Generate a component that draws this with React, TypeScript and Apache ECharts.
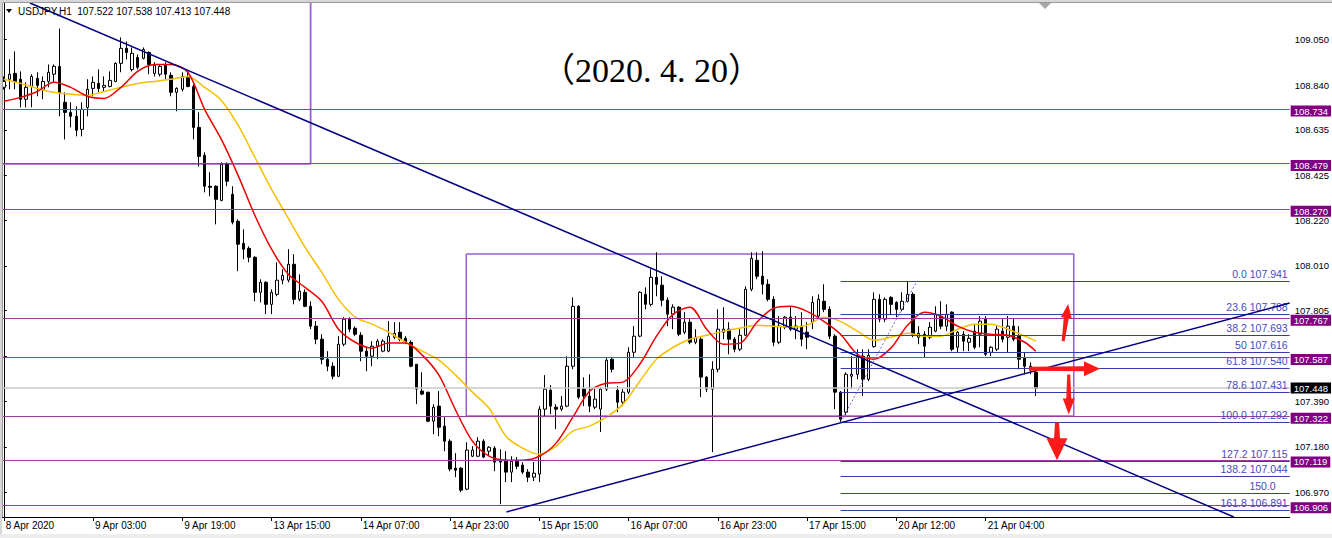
import React, { useEffect, useRef } from "react";
import * as echarts from "echarts";

// ---------- data ----------
// candles: [open, close, low, high] — USDJPY H1
const candles: number[][] = [
  [108.830,108.857,108.820,108.880],[108.867,108.890,108.821,108.958],[108.894,108.857,108.821,108.995],[108.867,108.775,108.738,108.903],
  [108.775,108.830,108.738,108.853],[108.834,108.880,108.738,108.890],[108.871,108.839,108.789,108.899],[108.821,108.857,108.775,108.880],
  [108.857,108.899,108.830,108.935],[108.890,108.926,108.853,108.935],[108.926,108.807,108.697,109.100],[108.761,108.715,108.591,108.807],
  [108.715,108.697,108.646,108.761],[108.697,108.633,108.605,108.743],[108.637,108.729,108.605,108.761],[108.738,108.821,108.697,108.867],
  [108.825,108.853,108.789,108.880],[108.848,108.825,108.807,108.912],[108.830,108.839,108.811,108.880],[108.834,108.862,108.830,108.903],
  [108.857,108.940,108.853,108.945],[108.940,109.009,108.899,109.059],[109.009,108.990,108.958,109.041],[108.912,108.986,108.903,109.013],
  [108.967,108.922,108.912,108.981],[108.963,109.004,108.958,109.013],[108.990,108.935,108.890,108.995],[108.894,108.931,108.880,108.945],
  [108.890,108.926,108.880,108.935],[108.931,108.890,108.867,108.945],[108.885,108.807,108.789,108.899],[108.807,108.825,108.720,108.830],
  [108.821,108.880,108.811,108.899],[108.880,108.834,108.830,108.903],[108.834,108.646,108.591,108.844],[108.646,108.513,108.467,108.715],
  [108.518,108.376,108.348,108.532],[108.376,108.371,108.330,108.440],[108.376,108.316,108.201,108.380],[108.311,108.477,108.307,108.486],
  [108.477,108.399,108.376,108.486],[108.339,108.211,108.201,108.376],[108.215,108.110,107.986,108.224],[108.114,108.087,108.041,108.178],
  [108.091,108.050,108.027,108.100],[108.050,107.889,107.848,108.055],[107.889,107.935,107.843,107.949],[107.935,107.834,107.789,107.940],
  [107.834,107.889,107.789,107.903],[107.880,107.945,107.871,108.027],[107.945,107.967,107.926,107.995],[107.945,108.018,107.935,108.087],
  [108.018,107.857,107.834,108.064],[107.857,107.894,107.848,107.972],[107.889,107.825,107.821,107.903],[107.825,107.734,107.720,107.848],
  [107.734,107.674,107.651,107.757],[107.674,107.582,107.559,107.697],[107.582,107.550,107.527,107.619],[107.550,107.504,107.490,107.568],
  [107.504,107.651,107.500,107.688],[107.651,107.766,107.642,107.775],[107.766,107.720,107.706,107.775],[107.724,107.697,107.688,107.733],
  [107.692,107.619,107.573,107.706],[107.619,107.596,107.527,107.637],[107.596,107.642,107.550,107.665],[107.642,107.665,107.582,107.674],
  [107.619,107.665,107.614,107.674],[107.619,107.688,107.614,107.757],[107.683,107.701,107.674,107.752],[107.706,107.674,107.665,107.752],
  [107.678,107.660,107.651,107.688],[107.660,107.550,107.545,107.669],[107.559,107.445,107.376,107.559],[107.436,107.422,107.417,107.522],
  [107.431,107.298,107.293,107.431],[107.298,107.362,107.238,107.376],[107.367,107.270,107.229,107.436],[107.275,107.206,107.160,107.316],
  [107.206,107.078,107.068,107.215],[107.082,107.073,107.041,107.151],[107.082,106.981,106.972,107.087],[106.986,107.165,106.981,107.201],
  [107.137,107.165,107.133,107.183],[107.137,107.206,107.133,107.224],[107.206,107.133,107.128,107.215],[107.160,107.178,107.142,107.183],
  [107.174,107.110,107.068,107.183],[107.119,107.110,106.917,107.169],[107.119,107.064,107.018,107.160],[107.064,107.114,107.018,107.137],
  [107.114,107.091,107.078,107.133],[107.096,107.064,107.055,107.110],[107.064,107.041,107.018,107.078],[107.041,107.059,107.023,107.110],
  [107.055,107.353,107.018,107.367],[107.353,107.445,107.321,107.509],[107.440,107.367,107.330,107.463],[107.362,107.353,107.261,107.376],
  [107.353,107.367,107.344,107.413],[107.367,107.550,107.362,107.596],[107.550,107.825,107.536,107.866],[107.825,107.408,107.399,107.830],
  [107.445,107.413,107.367,107.499],[107.413,107.367,107.339,107.513],[107.362,107.399,107.353,107.445],[107.353,107.445,107.248,107.454],
  [107.445,107.578,107.436,107.591],[107.582,107.536,107.522,107.591],[107.440,107.385,107.339,107.458],[107.385,107.431,107.367,107.445],
  [107.431,107.614,107.422,107.637],[107.614,107.688,107.591,107.734],[107.688,107.889,107.683,107.894],[107.880,107.834,107.811,107.912],
  [107.834,107.958,107.825,107.995],[107.958,107.926,107.871,108.073],[107.922,107.853,107.825,107.963],[107.853,107.789,107.734,107.866],
  [107.789,107.821,107.720,107.834],[107.821,107.697,107.688,107.825],[107.706,107.752,107.697,107.798],[107.752,107.660,107.651,107.766],
  [107.660,107.683,107.651,107.720],[107.674,107.500,107.408,107.683],[107.500,107.445,107.431,107.504],[107.445,107.536,107.156,107.573],
  [107.536,107.720,107.522,107.811],[107.706,107.720,107.674,107.821],[107.720,107.674,107.605,107.752],[107.674,107.628,107.614,107.683],
  [107.628,107.692,107.619,107.720],[107.692,107.903,107.688,107.917],[107.903,108.045,107.894,108.073],[108.036,107.963,107.949,108.073],
  [107.963,107.926,107.880,108.077],[107.926,107.857,107.848,107.949],[107.857,107.660,107.642,107.871],[107.660,107.734,107.651,107.780],
  [107.729,107.775,107.720,107.780],[107.775,107.720,107.711,107.821],[107.720,107.734,107.674,107.780],[107.734,107.674,107.642,107.798],
  [107.706,107.683,107.628,107.752],[107.752,107.843,107.720,107.871],[107.780,107.857,107.766,107.880],[107.848,107.811,107.798,107.926],
  [107.811,107.688,107.674,107.825],[107.688,107.431,107.353,107.697],[107.431,107.307,107.293,107.436],[107.339,107.513,107.325,107.522],
  [107.504,107.513,107.445,107.596],[107.513,107.596,107.490,107.628],[107.596,107.490,107.413,107.628],[107.490,107.600,107.481,107.628],
  [107.640,107.857,107.635,107.889],[107.857,107.766,107.752,107.880],[107.766,107.857,107.752,107.866],[107.866,107.834,107.789,107.871],
  [107.843,107.811,107.775,107.848],[107.811,107.848,107.802,107.889],[107.848,107.880,107.843,107.941],[107.880,107.697,107.683,107.889],
  [107.683,107.701,107.651,107.734],[107.697,107.642,107.591,107.711],[107.683,107.729,107.674,107.752],[107.711,107.789,107.706,107.825],
  [107.780,107.734,107.720,107.848],[107.734,107.789,107.711,107.834],[107.798,107.628,107.619,107.802],[107.637,107.706,107.614,107.711],
  [107.697,107.665,107.619,107.711],[107.660,107.678,107.619,107.697],[107.711,107.637,107.628,107.743],[107.697,107.757,107.637,107.780],
  [107.766,107.605,107.596,107.780],[107.614,107.637,107.596,107.642],[107.628,107.720,107.619,107.734],[107.711,107.674,107.660,107.766],
  [107.683,107.734,107.614,107.780],[107.734,107.674,107.665,107.766],[107.688,107.582,107.536,107.734],[107.587,107.550,107.513,107.614],
  [107.550,107.536,107.513,107.568],[107.522,107.448,107.413,107.538],
];

// moving averages: [bar index, price]
const maRed: number[][] = [
  [0,108.766],[3,108.784],[6,108.811],[9,108.853],[12,108.830],[15,108.789],[18,108.779],[21,108.830],[24,108.903],[27,108.935],
  [30,108.935],[33,108.899],[36,108.729],[39,108.591],[42,108.426],[45,108.243],[48,108.087],[51,107.972],[54,107.912],[57,107.848],
  [60,107.720],[63,107.660],[66,107.633],[69,107.656],[72,107.656],[75,107.601],[78,107.509],[81,107.348],[84,107.206],[87,107.137],
  [90,107.119],[93,107.119],[96,107.137],[99,107.197],[102,107.316],[105,107.435],[108,107.472],[111,107.477],[114,107.559],[117,107.688],
  [120,107.789],[123,107.821],[126,107.720],[129,107.651],[132,107.656],[135,107.752],[138,107.816],[141,107.825],[144,107.802],[147,107.756],
  [150,107.697],[153,107.605],[156,107.582],[159,107.633],[162,107.738],[165,107.798],[168,107.779],[171,107.734],[174,107.706],[177,107.697],
  [180,107.692],[183,107.660],[185,107.619],
];
const maYellow: number[][] = [
  [0,108.867],[3,108.848],[6,108.825],[9,108.807],[12,108.798],[15,108.793],[18,108.811],[21,108.830],[24,108.848],[27,108.857],
  [30,108.867],[33,108.880],[36,108.830],[39,108.770],[42,108.656],[45,108.509],[48,108.362],[51,108.229],[54,108.096],[57,107.981],
  [60,107.857],[63,107.775],[66,107.743],[69,107.706],[72,107.660],[75,107.619],[78,107.578],[81,107.509],[84,107.431],[87,107.357],
  [90,107.229],[93,107.174],[96,107.146],[99,107.183],[102,107.252],[105,107.275],[108,107.316],[111,107.376],[114,107.481],[117,107.582],
  [120,107.637],[123,107.674],[126,107.692],[129,107.711],[132,107.725],[135,107.738],[138,107.734],[141,107.729],[144,107.738],[147,107.775],
  [150,107.756],[153,107.711],[156,107.669],[159,107.683],[162,107.701],[165,107.688],[168,107.688],[171,107.720],[174,107.743],[177,107.743],
  [180,107.720],[183,107.688],[185,107.665],
];

const slotCount = 231; // bar slots shown (incl. empty right margin)
const xTickStep = 16;
const xTickLabels = [
  "8 Apr 2020", "9 Apr 03:00", "9 Apr 19:00", "13 Apr 15:00", "14 Apr 07:00", "14 Apr 23:00",
  "15 Apr 15:00", "16 Apr 07:00", "16 Apr 23:00", "17 Apr 15:00", "20 Apr 12:00", "21 Apr 04:00",
];
// tick marks on the price scale; the 107.595 label sits hidden under the 107.587 tag in the reference
const yTickValues = [109.050, 108.840, 108.635, 108.425, 108.220, 108.010, 107.805, 107.595, 107.390, 107.180, 106.970];
const yLabelValues = [109.050, 108.840, 108.635, 108.425, 108.220, 108.010, 107.805, 107.390, 107.180, 106.970];
const yMin = 106.858;
const yMax = 109.217;

const levelPrices = [108.734, 108.479, 108.270, 107.767, 107.587, 107.322, 107.119, 106.906];
const currentPrice = 107.448;

const fibNames = ["0.0 107.941", "23.6 107.788", "38.2 107.693", "50 107.616", "61.8 107.540", "78.6 107.431",
  "100.0 107.292", "127.2 107.115", "138.2 107.044", "150.0", "161.8 106.891"];
const fibPrices = [107.941, 107.788, 107.693, 107.616, 107.540, 107.431, 107.292, 107.115, 107.044, 106.967, 106.891];
const fibStartBar = 150;
const fibTrend = [[150, 107.292], [163.7, 107.941]];

const trendDown = [[4.7, 109.217], [220.5, 106.858]];
const trendUp = [[90.1, 106.881], [230.5, 107.840]];
const boxLeft = [[-5, 109.4], [55.0, 109.4], [55.0, 108.479], [-5, 108.479]];
const boxRange = [[82.9, 108.065], [191.8, 108.065], [191.8, 107.322], [82.9, 107.322]];

// annotation arrows (tail -> tip) in [bar, price]
const arrowsData = [
  { from: [189.9, 107.665], to: [190.8, 107.836], shaft: [3, 5], head: 11, headLen: 14 },
  { from: [183.8, 107.538], to: [196.5, 107.538], shaft: [4, 5], head: 15, headLen: 16 },
  { from: [190.9, 107.512], to: [190.9, 107.328], shaft: [3, 5], head: 12, headLen: 16 },
  { from: [188.8, 107.292], to: [188.8, 107.118], shaft: [4, 6], head: 21, headLen: 22 },
];

const W = 1332;
const H = 538;
const FONT = "'Liberation Sans', Arial, sans-serif";

function arrowPolygon(p1: number[], p2: number[], shaft: number[], head: number, headLen: number) {
  const dx = p2[0] - p1[0], dy = p2[1] - p1[1];
  const len = Math.hypot(dx, dy) || 1;
  const ux = dx / len, uy = dy / len;
  const nx = -uy, ny = ux;
  const bx = p2[0] - ux * headLen, by = p2[1] - uy * headLen;
  return [
    [p1[0] + nx * shaft[0] / 2, p1[1] + ny * shaft[0] / 2],
    [bx + nx * shaft[1] / 2, by + ny * shaft[1] / 2],
    [bx + nx * head / 2, by + ny * head / 2],
    [p2[0], p2[1]],
    [bx - nx * head / 2, by - ny * head / 2],
    [bx - nx * shaft[1] / 2, by - ny * shaft[1] / 2],
    [p1[0] - nx * shaft[0] / 2, p1[1] - ny * shaft[0] / 2],
  ];
}

export default function App() {
  const ref = useRef<HTMLDivElement>(null);

  useEffect(() => {
    const el = ref.current;
    if (!el) return;
    const chart = echarts.init(el, null, { renderer: "svg", width: W, height: H });

    const slots = Array.from({ length: slotCount }, (_, i) => "b" + i);
    const isTick = (i: number) => i % xTickStep === 0 && i / xTickStep < xTickLabels.length;

    const boxLabel = (text: string, bg: string, dy: number) => ({
      show: true, position: "end", distance: 1, formatter: text, offset: [0, dy],
      backgroundColor: bg, color: "#ffffff", padding: [1, 3, 0, 3], lineHeight: 10,
      fontSize: 9.5, fontFamily: FONT,
    });

    const levelMarks: any[] = levelPrices.map((p) => ({
      yAxis: p,
      lineStyle: { color: "#9a3d9a", width: 1, type: "solid" },
      label: boxLabel(p.toFixed(3), "#800080", 2),
    }));
    levelMarks.push({
      yAxis: currentPrice,
      lineStyle: { color: "#c8c8c8", width: 1.5, type: "solid" },
      label: boxLabel(currentPrice.toFixed(3), "#000000", 0),
    });

    const fibMarks: any[] = fibPrices.map((p, i) => [
      {
        coord: [fibStartBar, p],
        lineStyle: { color: "#3a3aa8", width: 1, type: "solid" },
        label: {
          show: true, position: "insideEndTop", distance: 2, formatter: fibNames[i],
          color: "#4848c0", fontSize: 10.5, fontFamily: FONT, lineHeight: 10,
          padding: fibNames[i] === "150.0" ? [0, 12, 0, 0] : 0,
        },
      },
      { coord: [slotCount - 0.5, p] },
    ]);

    const lineSeries = (id: string, data: number[][], color: string, width: number, extra: any = {}) => ({
      id, type: "line", xAxisIndex: 1, yAxisIndex: 0, data, symbol: "none", silent: true,
      lineStyle: { color, width, ...(extra.lineStyle || {}) }, z: extra.z ?? 4, clip: true,
      smooth: extra.smooth ?? false,
    });

    const option: any = {
      animation: false,
      backgroundColor: "#ffffff",
      grid: { left: 1, right: 41, top: 3, bottom: 21, containLabel: false },
      xAxis: [
        {
          type: "category", data: slots, boundaryGap: true,
          axisLine: { show: true, lineStyle: { color: "#000", width: 1 } },
          axisTick: { show: true, alignWithLabel: true, interval: (i: number) => isTick(i), length: 4, lineStyle: { color: "#000" } },
          axisLabel: {
            interval: (i: number) => isTick(i),
            formatter: (_v: string, i: number) => (isTick(i) ? xTickLabels[i / xTickStep] : ""),
            align: "left", fontSize: 10, fontFamily: FONT, color: "#000", margin: 3, padding: [0, 0, 0, 2],
          },
          splitLine: { show: false },
        },
        { type: "value", min: -0.5, max: slotCount - 0.5, show: false },
      ],
      yAxis: [
        {
          type: "value", position: "right", min: yMin, max: yMax, scale: true,
          axisLine: { show: true, lineStyle: { color: "#000", width: 1 } },
          axisTick: { show: true, customValues: yTickValues, length: 3, lineStyle: { color: "#000" } },
          axisLabel: {
            customValues: yLabelValues, formatter: (v: number) => v.toFixed(3),
            fontSize: 9.5, fontFamily: FONT, color: "#000", margin: 5, lineHeight: 8,
          },
          splitLine: { show: false },
        },
      ],
      series: [
        {
          type: "candlestick", xAxisIndex: 0, yAxisIndex: 0, data: candles, barWidth: 3, z: 3,
          itemStyle: { color: "#ffffff", color0: "#000000", borderColor: "#000000", borderColor0: "#000000", borderWidth: 1 },
          silent: true,
        },
        lineSeries("anchor", trendDown, "#000080", 1.5, { z: 5 }),
        lineSeries("trendUp", trendUp, "#000080", 1.5, { z: 5 }),
        lineSeries("boxLeft", [...boxLeft, boxLeft[0]], "#9b5fd6", 1.8, { z: 2 }),
        lineSeries("boxRange", [...boxRange, boxRange[0]], "#9b5fd6", 1.5, { z: 2 }),
        lineSeries("fibTrend", fibTrend, "#6a6ae0", 1, { lineStyle: { type: [2, 2] }, z: 5 }),
        lineSeries("maYellow", maYellow, "#f5c000", 1.5, { smooth: 0.3, z: 4 }),
        lineSeries("maRed", maRed, "#ee0000", 1.5, { smooth: 0.3, z: 4 }),
        {
          id: "levels", type: "line", xAxisIndex: 1, yAxisIndex: 0, data: [[0, currentPrice]], symbol: "none",
          lineStyle: { opacity: 0 }, silent: true, z: 1,
          markLine: { silent: true, symbol: ["none", "none"], animation: false, data: levelMarks },
        },
        {
          id: "fib", type: "line", xAxisIndex: 1, yAxisIndex: 0, data: [[fibStartBar, fibPrices[0]]], symbol: "none",
          lineStyle: { opacity: 0 }, silent: true, z: 2,
          markLine: { silent: true, symbol: ["none", "none"], animation: false, data: fibMarks },
        },
      ],
    };
    chart.setOption(option);

    const toPx = (pt: number[]) => chart.convertToPixel({ seriesId: "anchor" }, pt) as number[];
    const arrowGraphics = arrowsData.map((a) => ({
      type: "polygon", silent: true, z: 100,
      shape: { points: arrowPolygon(toPx(a.from), toPx(a.to), a.shaft, a.head, a.headLen) },
      style: { fill: "#ff1a1a" },
    }));

    chart.setOption({
      graphic: [
        { type: "rect", silent: true, z: 90, shape: { x: 0, y: 0, width: W, height: 2 }, style: { fill: "#d6d6d6" } },
        { type: "rect", silent: true, z: 90, shape: { x: 0, y: 0, width: 2, height: H }, style: { fill: "#d6d6d6" } },
        { type: "line", silent: true, z: 91, shape: { x1: 2.5, y1: 2.5, x2: W, y2: 2.5 }, style: { stroke: "#9a9a9a", lineWidth: 1 } },
        { type: "line", silent: true, z: 91, shape: { x1: 2.5, y1: 2.5, x2: 2.5, y2: 517 }, style: { stroke: "#9a9a9a", lineWidth: 1 } },
        { type: "rect", silent: true, z: 90, shape: { x: 0, y: 534, width: W, height: 4 }, style: { fill: "#ededed" } },
        { type: "polygon", silent: true, z: 92, shape: { points: [[1039, 3], [1051, 3], [1045, 9]] }, style: { fill: "#a8a8a8" } },
        { type: "polygon", silent: true, z: 92, shape: { points: [[6, 9], [12, 9], [9, 13]] }, style: { fill: "#000" } },
        {
          type: "text", silent: true, z: 92, x: 18, y: 11,
          style: { text: "USDJPY,H1  107.522 107.538 107.413 107.448", fontSize: 10, fontFamily: FONT, fill: "#000", align: "left", verticalAlign: "middle" },
        },
        {
          type: "text", silent: true, z: 92, x: 541, y: 70,
          style: { text: "（2020. 4. 20）", fontSize: 34, fontFamily: "'Liberation Serif', 'Noto Sans CJK SC', serif", fill: "#000", align: "left", verticalAlign: "middle" },
        },
        ...arrowGraphics,
      ],
    });

    return () => chart.dispose();
  }, []);

  return <div ref={ref} style={{ position: "fixed", left: 0, top: 0, width: W, height: H, background: "#fff" }} />;
}
